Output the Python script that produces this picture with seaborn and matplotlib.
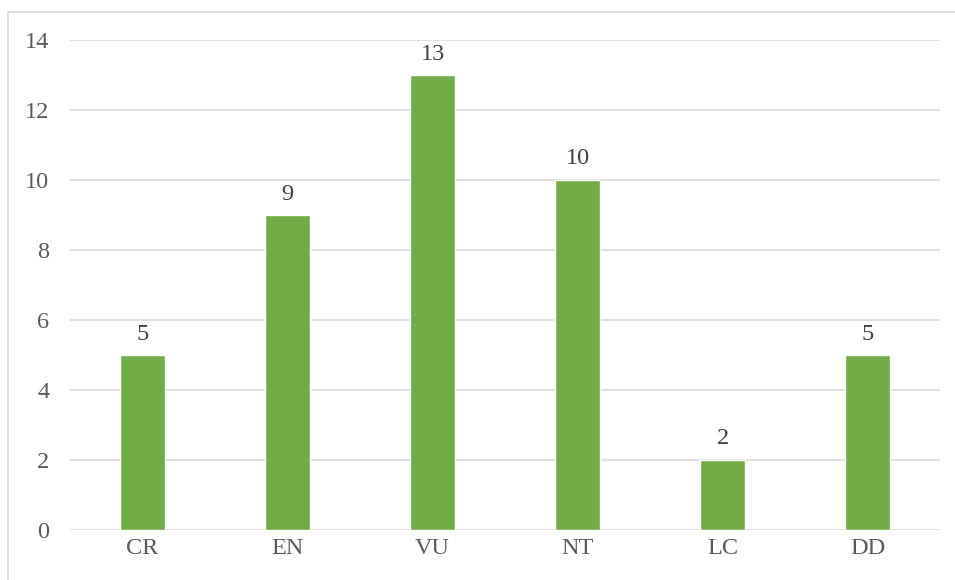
import matplotlib
matplotlib.use("Agg")
import matplotlib.pyplot as plt
import seaborn as sns
import pandas as pd
from matplotlib.patches import Rectangle

# Data
categories = ["CR", "EN", "VU", "NT", "LC", "DD"]
counts = [5, 9, 13, 10, 2, 5]

df = pd.DataFrame({"Category": categories, "Count": counts})

sns.set_style("white")
plt.rcParams["font.family"] = ["Liberation Serif", "DejaVu Serif"]

fig = plt.figure(figsize=(9.55, 5.8), dpi=100)
ax = fig.add_axes([70 / 955, 1 - 530 / 580, 870 / 955, 490 / 580])

sns.barplot(data=df, x="Category", y="Count", color="#70AD47", width=0.31,
            saturation=1, ax=ax, zorder=3)

ax.set_ylim(0, 14)
ax.set_yticks(range(0, 15, 2))
ax.set_xlim(-0.5, len(categories) - 0.5)
ax.yaxis.grid(True, color="#D9D9D9", linewidth=1.2, zorder=0)
ax.set_axisbelow(True)
for s in ax.spines.values():
    s.set_visible(False)
ax.tick_params(axis="both", length=0, labelsize=17.5, labelcolor="#595959")
ax.tick_params(axis="x", pad=6)
ax.tick_params(axis="y", pad=15)
ax.set_xlabel("")
ax.set_ylabel("")

for i, v in enumerate(counts):
    ax.text(i, v + 0.3, str(v), ha="center", va="bottom", fontsize=17.5, color="#404040")

# outer chart border
fig.patches.append(Rectangle((8 / 955, -0.1), 1.1, 1 - 12 / 580 + 0.1,
                             transform=fig.transFigure, fill=False,
                             edgecolor="#D9D9D9", linewidth=1.2))

fig.savefig("out.png", dpi=100)
